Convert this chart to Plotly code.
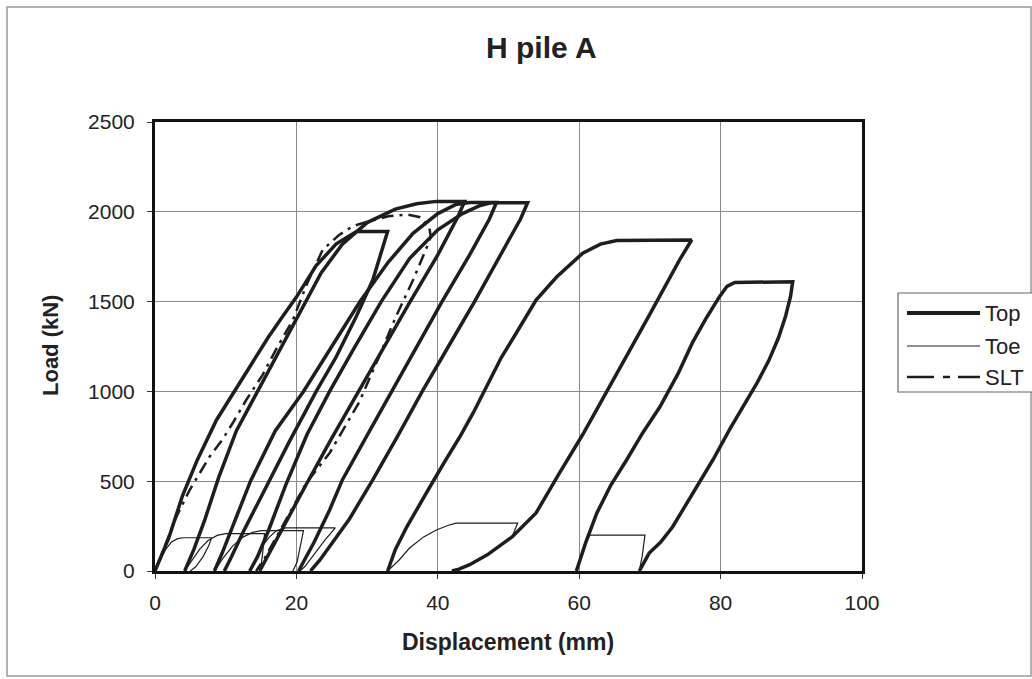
import plotly.graph_objects as go

# ---------------- data ----------------
# Top: six load/unload loops (loading branch, plateau, unloading branch)
top1_x = [0, 1, 2, 3.9, 6, 8.7, 11.2, 13.4, 16, 18, 20, 22.8, 25.6, 28.5, 32.9,
          30.8, 28.5, 25.6, 22.8, 19, 15.5, 12.5, 10.7, 9.8]
top1_y = [0, 90, 190, 420, 620, 841, 1000, 1136, 1300, 1414, 1525, 1700, 1820, 1890, 1890,
          1620, 1420, 1190, 1000, 720, 450, 220, 70, 0]

top2_x = [4.2, 5.5, 7, 9, 11.5, 14.5, 17.5, 20.5, 23.5, 26.5, 30, 34, 37, 39.8, 43.8,
          42.8, 40, 35.8, 32, 28.7, 25, 21.5, 18.5, 16.5, 15.3, 14.8]
top2_y = [0, 120, 280, 520, 780, 1000, 1220, 1450, 1660, 1820, 1940, 2015, 2045, 2058, 2058,
          1970, 1760, 1480, 1220, 1000, 740, 490, 270, 120, 30, 0]

top3_x = [8.4, 9.5, 11, 13.5, 17, 21, 25, 29, 33, 36.5, 40, 42.5, 44.5, 48.3,
          47.3, 44.5, 40.6, 37, 33.5, 30, 26.5, 24.7, 22.5, 20.9, 20.3]
top3_y = [0, 100, 250, 500, 780, 1000, 1250, 1500, 1720, 1880, 1990, 2040, 2052, 2052,
          1960, 1760, 1500, 1250, 1000, 755, 507, 340, 160, 45, 0]

top4_x = [13.4, 14.5, 16, 18.5, 21.5, 24.7, 28, 32, 36, 40, 43.5, 46, 47.5, 52.7,
          51.7, 49, 45.2, 41.5, 37.8, 34.3, 30.8, 27.5, 25, 23.3, 22.3, 22]
top4_y = [0, 80, 220, 480, 760, 1000, 1230, 1500, 1740, 1900, 1990, 2035, 2050, 2050,
          1960, 1770, 1500, 1250, 1000, 750, 507, 290, 150, 60, 15, 0]

top5_x = [32.9, 34, 35.6, 37.5, 39.2, 41, 43.1, 45, 47.3, 49, 51.1, 53.9, 56.8, 60.5, 63, 65.3, 75.9,
          74.2, 70, 64.5, 60.5, 57.2, 53.9, 50.5, 47, 44.5, 43, 42]
top5_y = [0, 120, 245, 370, 490, 610, 746, 880, 1063, 1190, 1325, 1509, 1637, 1770, 1820, 1840, 1843,
          1732, 1430, 1040, 760, 545, 323, 190, 90, 35, 10, 0]

top6_x = [59.6, 61, 62.5, 64.5, 66.7, 69, 71.4, 74, 76, 78, 79.8, 80.9, 82, 90.2,
          89.9, 89.2, 88.2, 86.8, 85.2, 83.7, 81.3, 78.9, 76, 73.2, 71.5, 69.9, 68.5]
top6_y = [0, 167, 323, 480, 618, 770, 913, 1100, 1270, 1410, 1525, 1585, 1607, 1610,
          1530, 1420, 1300, 1170, 1050, 952, 790, 618, 430, 245, 160, 100, 0]

# Toe: six small loops
toe1_x = [0, 0.7, 1.5, 2.3, 3.2, 4, 8, 7.6, 6.8, 5.8, 5]
toe1_y = [0, 60, 120, 160, 180, 185, 185, 140, 80, 25, 0]
toe2_x = [4.2, 5.2, 6.3, 7.5, 8.8, 10, 15.5, 15.2, 14.9]
toe2_y = [0, 60, 120, 170, 198, 208, 208, 90, 0]
toe3_x = [8.4, 9.6, 11, 12.5, 13.8, 15, 21, 20.6, 20.1, 19.5]
toe3_y = [0, 70, 140, 190, 215, 225, 225, 140, 50, 0]
toe4_x = [13.4, 14.3, 15.2, 16.2, 17.2, 18.5, 25.5, 24, 22.5, 21.2, 20.5]
toe4_y = [0, 70, 140, 190, 225, 240, 240, 170, 90, 25, 0]
toe5_x = [32.9, 34.5, 36, 38, 39.8, 41.5, 42.6, 51.3, 50.5, 47, 44, 42]
toe5_y = [0, 60, 128, 190, 228, 255, 267, 267, 190, 90, 25, 0]
toe6_x = [59.6, 60.2, 60.8, 61.5, 69.3, 68.9, 68.5]
toe6_y = [0, 80, 160, 200, 200, 80, 0]

# SLT: static load test (load then unload)
slt_x = [0, 1.5, 3, 4.9, 7.7, 9.5, 11, 12.9, 15.2, 17.2, 19.5, 21.5, 23.7, 26, 28, 30.5, 33, 35.7,
         37.5, 38.8, 39, 38.4, 36.5, 34, 31.8, 28.9, 26.5, 24.7, 21.4, 19, 17, 15.5, 14.3]
slt_y = [0, 150, 300, 451, 635, 730, 824, 952, 1091, 1240, 1397, 1600, 1787, 1870, 1920, 1950, 1975, 1985,
         1970, 1915, 1860, 1798, 1620, 1410, 1203, 941, 780, 657, 490, 320, 180, 70, 0]

x_ticks = [0, 20, 40, 60, 80, 100]
y_ticks = [0, 500, 1000, 1500, 2000, 2500]
series_names = ["Top", "Toe", "SLT"]


def join(*loops):
    xs, ys = [], []
    for lx, ly in loops:
        if xs:
            xs.append(None)
            ys.append(None)
        xs += lx
        ys += ly
    return xs, ys


tx, ty = join((top1_x, top1_y), (top2_x, top2_y), (top3_x, top3_y),
              (top4_x, top4_y), (top5_x, top5_y), (top6_x, top6_y))
ex, ey = join((toe1_x, toe1_y), (toe2_x, toe2_y), (toe3_x, toe3_y),
              (toe4_x, toe4_y), (toe5_x, toe5_y), (toe6_x, toe6_y))

FONT = "Liberation Sans, Arial, sans-serif"
INK = "#1e1e1e"
SLT_DASH = "12px,6px,3px,6px"

# plot area in pixels: left 155, right 862, top 122, bottom 571
L, R, T, B = 155, 862, 122, 571


def px(x):
    return (x - L) / (R - L)


def py(y):
    return (B - y) / (B - T)


fig = go.Figure()
fig.add_trace(go.Scatter(x=tx, y=ty, mode="lines", name=series_names[0], showlegend=False,
                         line=dict(color=INK, width=3.5)))
fig.add_trace(go.Scatter(x=ex, y=ey, mode="lines", name=series_names[1], showlegend=False,
                         line=dict(color=INK, width=1.2)))
fig.add_trace(go.Scatter(x=slt_x, y=slt_y, mode="lines", name=series_names[2], showlegend=False,
                         line=dict(color=INK, width=2.5, dash=SLT_DASH)))

# ---- hand-drawn legend (Excel style, long line samples) ----
shapes = [
    # outer chart frame
    dict(type="rect", xref="paper", yref="paper",
         x0=px(7), x1=px(1031), y0=py(676), y1=py(7),
         line=dict(color="#999", width=1.5)),
    # legend box
    dict(type="rect", xref="paper", yref="paper",
         x0=px(898), x1=px(1045), y0=py(392), y1=py(293),
         line=dict(color="#666", width=1.2), fillcolor="white", layer="above"),
]
annotations = []
leg_rows = [313, 346, 377]
for i, (name, yy) in enumerate(zip(series_names, leg_rows)):
    if i == 0:
        shapes.append(dict(type="line", xref="paper", yref="paper", x0=px(907), x1=px(980),
                           y0=py(yy), y1=py(yy), line=dict(color=INK, width=4)))
    elif i == 1:
        shapes.append(dict(type="line", xref="paper", yref="paper", x0=px(907), x1=px(980),
                           y0=py(yy), y1=py(yy), line=dict(color=INK, width=1.2)))
    else:
        for a, b in [(907, 934), (943, 950), (958, 980)]:
            shapes.append(dict(type="line", xref="paper", yref="paper", x0=px(a), x1=px(b),
                               y0=py(yy), y1=py(yy), line=dict(color=INK, width=2.5)))
    annotations.append(dict(text=name, xref="paper", yref="paper", x=px(983), y=py(yy),
                            xanchor="left", yanchor="middle", showarrow=False,
                            font=dict(size=22, family=FONT, color="#222")))

annotations += [
    dict(text="<b>Load (kN)</b>", xref="paper", yref="paper", x=px(50), y=py(346),
         textangle=-90, showarrow=False, font=dict(size=22, family=FONT, color="#222"),
         xanchor="center", yanchor="middle"),
    dict(text="<b>Displacement (mm)</b>", xref="paper", yref="paper", x=px(508), y=py(642),
         showarrow=False, font=dict(size=23, family=FONT, color="#222"),
         xanchor="center", yanchor="middle"),
]

fig.update_layout(
    width=1032, height=679,
    margin=dict(l=L, r=1032 - R, t=T, b=679 - B),
    paper_bgcolor="white", plot_bgcolor="white",
    font=dict(family=FONT, size=21, color="#222"),
    title=dict(text="<b>H pile A</b>", x=0.5245, xref="container", y=0.930, yref="container",
               xanchor="center", yanchor="middle", font=dict(size=30, family=FONT, color="#222")),
    showlegend=False,
    xaxis=dict(range=[0, 100], tickvals=x_ticks, ticktext=[str(v) for v in x_ticks],
               showgrid=True, gridcolor="#8a8a8a", gridwidth=1,
               showline=True, linecolor="#111", linewidth=3, mirror=True,
               ticks="outside", ticklen=5, tickcolor="#333", ticklabelstandoff=6,
               tickfont=dict(size=21, family=FONT, color="#222"),
               zeroline=False, fixedrange=True),
    yaxis=dict(range=[0, 2500], tickvals=y_ticks, ticktext=[str(v) for v in y_ticks],
               showgrid=True, gridcolor="#8a8a8a", gridwidth=1,
               showline=True, linecolor="#111", linewidth=3, mirror=True,
               ticks="outside", ticklen=5, tickcolor="#333", ticklabelstandoff=8,
               tickfont=dict(size=21, family=FONT, color="#222"),
               zeroline=False, fixedrange=True),
    annotations=annotations,
    shapes=shapes,
)

fig.write_html("out.html")
